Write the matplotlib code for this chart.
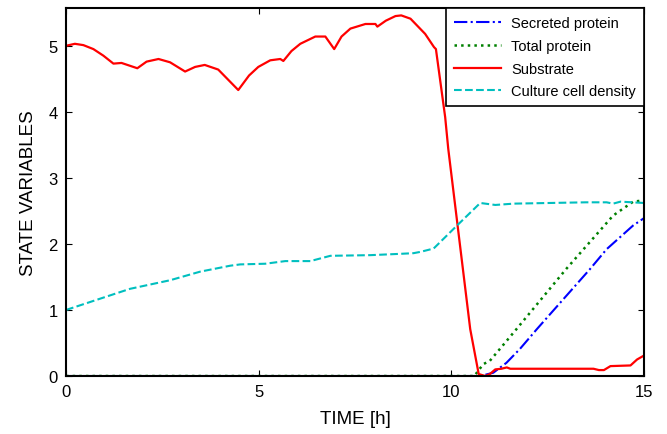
import numpy as np
import matplotlib
matplotlib.use("Agg")
import matplotlib.pyplot as plt

plt.rcParams["font.family"] = ["Liberation Sans", "DejaVu Sans"]
plt.rcParams["font.size"] = 10.5

# Substrate (red, solid)
t_sub = [0, 0.23, 0.45, 0.71, 0.97, 1.23, 1.44, 1.85, 2.09, 2.40, 2.70, 3.09, 3.35, 3.6, 3.95,
         4.47, 4.75, 4.99, 5.3, 5.56, 5.64, 5.85, 6.08, 6.47, 6.73, 6.96, 7.15, 7.38, 7.77, 8.03,
         8.08, 8.3, 8.55, 8.7, 8.94, 9.32, 9.55, 9.6, 9.84, 9.92, 10.3, 10.49, 10.71, 10.88,
         11.0, 11.14, 11.3, 11.44, 11.53, 13.69, 13.83, 13.96, 14.13, 14.65, 14.82, 15.0]
substrate = [5.0, 5.03, 5.01, 4.95, 4.85, 4.73, 4.74, 4.66, 4.76, 4.80, 4.75, 4.61, 4.68, 4.71, 4.64,
             4.33, 4.55, 4.68, 4.78, 4.80, 4.77, 4.92, 5.03, 5.14, 5.14, 4.95, 5.14, 5.26, 5.33, 5.33,
             5.29, 5.38, 5.45, 5.46, 5.41, 5.18, 4.98, 4.95, 3.92, 3.44, 1.62, 0.71, 0.03, 0.0,
             0.03, 0.1, 0.11, 0.13, 0.11, 0.11, 0.09, 0.09, 0.15, 0.16, 0.25, 0.31]

# Culture cell density (cyan, dashed)
t_cell = [0, 0.88, 1.66, 2.7, 3.48, 4.26, 4.52, 5.17, 5.69, 6.34, 6.86, 7.9, 8.68, 9.02, 9.2,
          9.54, 10.15, 10.75, 11.14, 11.62, 13.5, 14.03, 14.2, 14.39, 15.0]
cell = [1.0, 1.17, 1.32, 1.45, 1.58, 1.67, 1.69, 1.70, 1.74, 1.74, 1.82, 1.83, 1.85, 1.86, 1.88,
        1.93, 2.28, 2.62, 2.59, 2.61, 2.63, 2.63, 2.61, 2.64, 2.62]

# Total protein (green, dotted)
t_tot = [0, 10.6, 10.66, 10.83, 11.0, 11.26, 11.69, 12.98, 14.2, 14.72, 15.0]
total = [0, 0, 0.05, 0.18, 0.23, 0.41, 0.71, 1.62, 2.43, 2.64, 2.66]

# Secreted protein (blue, dash-dot)
t_sec = [0, 10.75, 11.09, 11.43, 11.78, 12.22, 13.6, 14.03, 14.72, 15.0]
secreted = [0, 0, 0.05, 0.2, 0.41, 0.71, 1.62, 1.92, 2.28, 2.39]

fig = plt.figure(figsize=(6.67, 4.35), dpi=100)
ax = fig.add_axes([0.099, 0.1333, 0.8665, 0.8457])

ax.plot(t_sec, secreted, "-.", color="#0000ff", lw=1.5, label="Secreted protein")
ax.plot(t_tot, total, ":", color="#008000", lw=1.8, label="Total protein")
ax.plot(t_sub, substrate, "-", color="#ff0000", lw=1.6, label="Substrate")
ax.plot(t_cell, cell, "--", color="#00bfbf", lw=1.5, label="Culture cell density")

ax.set_xlim(0, 15)
ax.set_ylim(0, 5.57)
ax.set_xticks([0, 5, 10, 15])
ax.set_yticks([0, 1, 2, 3, 4, 5])
ax.tick_params(direction="in", top=True, right=True, length=4, width=0.8,
               labelsize=12, pad=6)
for s in ax.spines.values():
    s.set_linewidth(1.5)

ax.set_xlabel("TIME [h]", fontsize=13.5, labelpad=8)
ax.set_ylabel("STATE VARIABLES", fontsize=13.5, labelpad=8)

leg = ax.legend(loc="upper right", borderaxespad=0, fancybox=False, framealpha=1,
                edgecolor="black", handlelength=3.2, fontsize=10.5, borderpad=0.55,
                labelspacing=0.6, handletextpad=0.7)
leg.get_frame().set_linewidth(1.2)

fig.savefig("out.png", dpi=100)
